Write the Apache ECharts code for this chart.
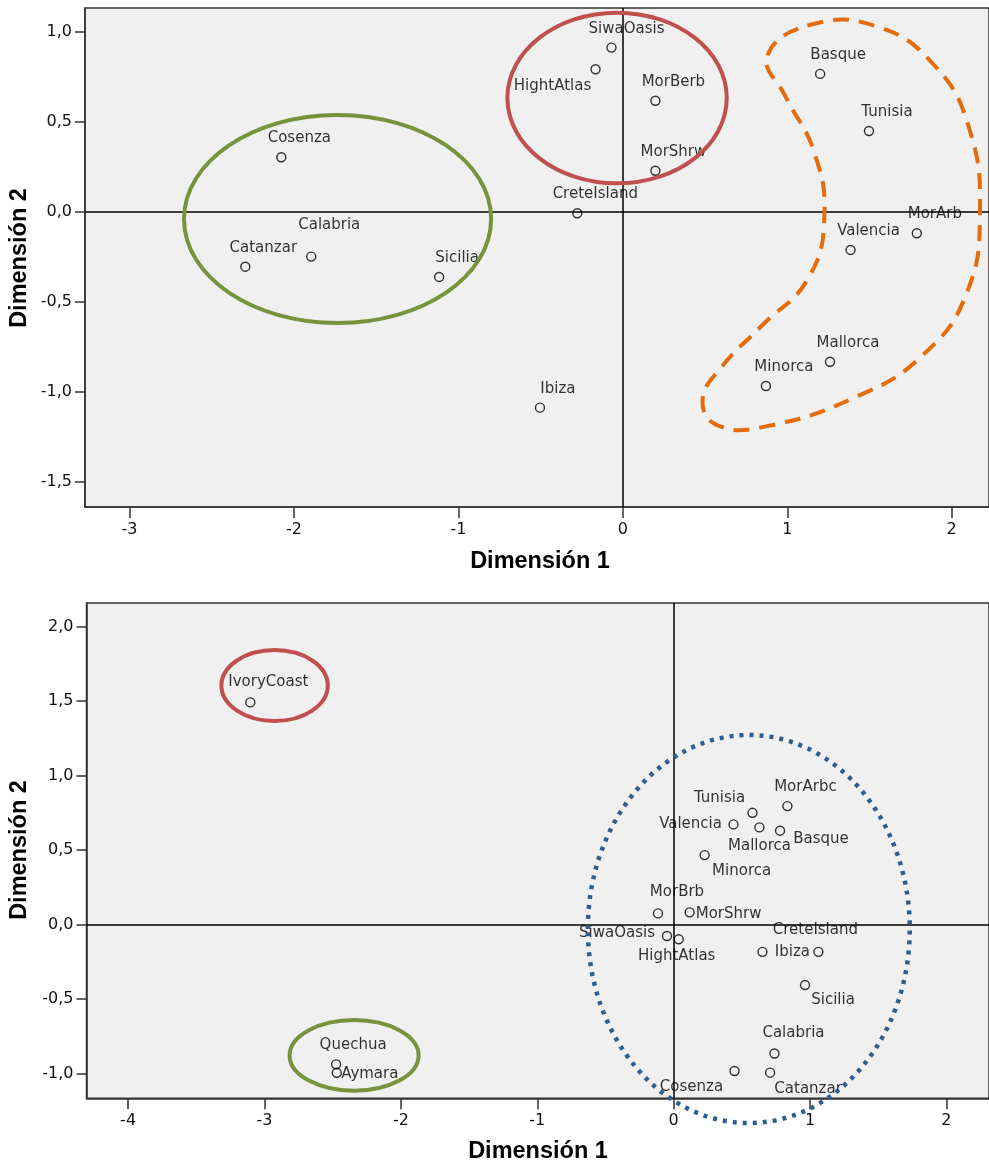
<!DOCTYPE html>
<html><head><meta charset="utf-8">
<script src="https://cdn.jsdelivr.net/npm/echarts@6/dist/echarts.min.js"></script>
<style>html,body{margin:0;padding:0;background:#fff}#c{width:989px;height:1166px}</style>
</head><body><div id="c"></div>
<script>
// ---------- Data: top chart ----------
const topNames = ['SiwaOasis','HightAtlas','MorBerb','MorShrw','CreteIsland','Basque','Tunisia','MorArb','Valencia','Mallorca','Minorca','Ibiza','Cosenza','Calabria','Catanzar','Sicilia'];
const topDim1  = [-0.069,-0.166,0.198,0.198,-0.277,1.200,1.497,1.788,1.385,1.260,0.870,-0.504,-2.077,-1.895,-2.296,-1.117];
const topDim2  = [0.913,0.793,0.618,0.229,-0.007,0.767,0.450,-0.118,-0.211,-0.832,-0.967,-1.087,0.304,-0.248,-0.304,-0.361];
const topXTicks = [-3,-2,-1,0,1,2];
const topYTicks = [-1.5,-1.0,-0.5,0,0.5,1.0];

// ---------- Data: bottom chart ----------
const botNames = ['IvoryCoast','Quechua','Aymara','Tunisia','MorArbc','Valencia','Mallorca','Basque','Minorca','MorBrb','MorShrw','SiwaOasis','HightAtlas','CreteIsland','Ibiza','Sicilia','Calabria','Cosenza','Catanzar'];
const botDim1  = [-3.104,-2.475,-2.470,0.578,0.834,0.439,0.629,0.780,0.227,-0.115,0.117,-0.049,0.037,1.061,0.651,0.963,0.739,0.446,0.707];
const botDim2  = [1.491,-0.938,-0.995,0.750,0.795,0.672,0.652,0.630,0.466,0.075,0.082,-0.077,-0.099,-0.183,-0.183,-0.406,-0.865,-0.983,-0.994];
const botXTicks = [-4,-3,-2,-1,0,1,2];
const botYTicks = [-1.0,-0.5,0,0.5,1.0,1.5,2.0];

// ---------- Label placement (pixel offsets of label centre from point) ----------
const defOff = [18,-19];
const topOff = { 'HightAtlas':[-43,17], 'Calabria':[18,-31], 'SiwaOasis':[15,-18] };
const botOff = { 'Aymara':[33,1], 'Tunisia':[-33,-15], 'Valencia':[-43,0], 'Mallorca':[0,19],
  'Basque':[41,8], 'Minorca':[37,16], 'MorBrb':[19,-21], 'MorShrw':[39,2], 'SiwaOasis':[-50,-3],
  'HightAtlas':[-2,17], 'CreteIsland':[-3,-22], 'Ibiza':[30,0], 'Sicilia':[28,15], 'Calabria':[19,-20],
  'Cosenza':[-43,16], 'Catanzar':[38,16], 'IvoryCoast':[18,-20], 'Quechua':[17,-19] };

const chart = echarts.init(document.getElementById('c'), null, {renderer:'canvas'});

function xAxisCfg(gi, min, max, ticks){
  return {type:'value', gridIndex:gi, min:min, max:max, splitLine:{show:false},
    axisLine:{show:true, onZero:false, lineStyle:{color:'#333', width:1.5}},
    axisTick:{show:true, length:11, customValues:ticks, lineStyle:{color:'#333', width:1.5}},
    axisLabel:{customValues:ticks, margin:15, color:'#111', fontFamily:'DejaVu Sans', fontSize:16,
      formatter:function(v){return String(Math.round(v));}}};
}
function yAxisCfg(gi, min, max, ticks){
  return {type:'value', gridIndex:gi, min:min, max:max, splitLine:{show:false},
    axisLine:{show:true, onZero:false, lineStyle:{color:'#333', width:1.5}},
    axisTick:{show:true, length:10, customValues:ticks, lineStyle:{color:'#333', width:1.5}},
    axisLabel:{customValues:ticks, margin:13, color:'#111', fontFamily:'DejaVu Sans', fontSize:16,
      formatter:function(v){return (Math.abs(v)<1e-9?0:v).toFixed(1).replace('.',',');}}};
}
function mkData(names, xs, ys, offs){
  return names.map(function(n,i){
    return {name:n, value:[xs[i], ys[i]], label:{offset: offs[n] || defOff}};
  });
}
function series(gi, names, xs, ys, offs){
  return {type:'scatter', xAxisIndex:gi, yAxisIndex:gi, symbol:'circle', symbolSize:9,
    itemStyle:{color:'rgba(0,0,0,0)', borderColor:'#000', borderWidth:1.4},
    label:{show:true, position:'inside', formatter:'{b}', color:'#000', fontFamily:'DejaVu Sans', fontSize:15},
    emphasis:{disabled:true},
    markLine:{silent:true, symbol:'none', animation:false, label:{show:false},
      lineStyle:{color:'#000', width:1.5, type:'solid'},
      data:[{xAxis:0},{yAxis:0}]},
    data: mkData(names, xs, ys, offs), z:3};
}

chart.setOption({
  animation:false,
  backgroundColor:'#ffffff',
  grid:[
    {left:85, top:8, width:906, height:499, show:true, backgroundColor:'#f0f0f0', borderColor:'#333', borderWidth:1.5},
    {left:86.5, top:603, width:904.5, height:495.3, show:true, backgroundColor:'#f0f0f0', borderColor:'#333', borderWidth:1.5}
  ],
  xAxis:[ xAxisCfg(0, -3.271, 2.227, topXTicks), xAxisCfg(1, -4.305, 2.312, botXTicks) ],
  yAxis:[ yAxisCfg(0, -1.639, 1.133, topYTicks), yAxisCfg(1, -1.166, 2.158, botYTicks) ],
  series:[ series(0, topNames, topDim1, topDim2, topOff), series(1, botNames, botDim1, botDim2, botOff) ]
});

// ---------- Annotations (defined in data units, converted through the axes) ----------
function px(gi, x, y){ return chart.convertToPixel({gridIndex:gi}, [x,y]); }
function ellipse(gi, cx, cy, rx, ry, style){
  const c = px(gi, cx, cy), a = px(gi, cx+rx, cy), b = px(gi, cx, cy+ry);
  return {type:'ellipse', z:100, silent:true,
    shape:{cx:c[0], cy:c[1], rx:Math.abs(a[0]-c[0]), ry:Math.abs(c[1]-b[1])},
    style:Object.assign({fill:'none'}, style)};
}
const orangeOutline = [[0.880,0.870],[1.159,1.044],[1.553,1.028],[1.887,0.822],[2.100,0.483],[2.172,-0.006],
  [2.087,-0.461],[1.826,-0.794],[1.432,-1.022],[0.856,-1.194],[0.570,-1.183],[0.485,-1.044],[0.595,-0.867],
  [0.837,-0.639],[1.129,-0.367],[1.226,-0.017],[1.159,0.344],[0.990,0.640]];

const green = {stroke:'#77933c', lineWidth:4};
const red = {stroke:'#c0504d', lineWidth:4};
const titleFont = 'bold 23.5px "Liberation Sans", Arial, sans-serif';

chart.setOption({
  graphic:[
    ellipse(0, -1.735, -0.039, 0.934, 0.578, green),
    ellipse(0, -0.035, 0.633, 0.667, 0.474, red),
    {type:'polygon', z:100, silent:true,
      shape:{points: orangeOutline.map(function(p){return px(0,p[0],p[1]);}), smooth:0.45},
      style:{fill:'none', stroke:'#e46c0a', lineWidth:4, lineDash:[16,10]}},
    ellipse(1, -2.926, 1.604, 0.39, 0.238, red),
    ellipse(1, -2.343, -0.878, 0.473, 0.237, green),
    ellipse(1, 0.551, -0.030, 1.18, 1.302, {stroke:'#2f5d8f', lineWidth:4.5, lineDash:[4,6], lineCap:'butt'}),
    {type:'text', x:540, y:562, silent:true, style:{text:'Dimensión 1', font:titleFont, fill:'#000', align:'center', verticalAlign:'middle'}},
    {type:'text', x:538, y:1152, silent:true, style:{text:'Dimensión 1', font:titleFont, fill:'#000', align:'center', verticalAlign:'middle'}},
    {type:'text', x:20, y:258, rotation:Math.PI/2, silent:true, style:{text:'Dimensión 2', font:titleFont, fill:'#000', align:'center', verticalAlign:'middle'}},
    {type:'text', x:20, y:850, rotation:Math.PI/2, silent:true, style:{text:'Dimensión 2', font:titleFont, fill:'#000', align:'center', verticalAlign:'middle'}}
  ]
});
</script>
</body></html>
